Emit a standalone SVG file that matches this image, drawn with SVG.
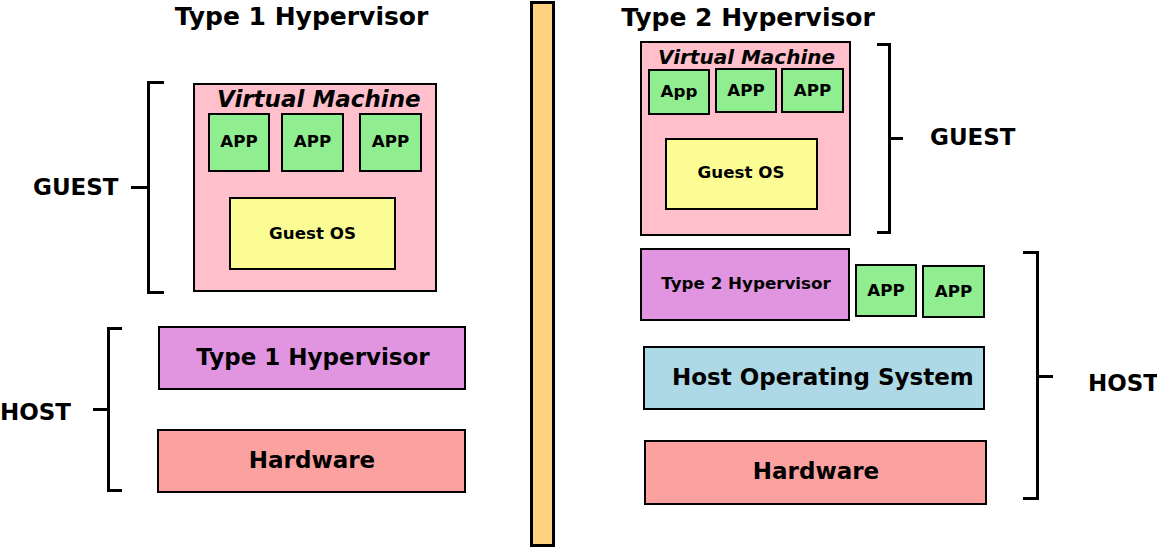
<svg xmlns="http://www.w3.org/2000/svg" width="1157" height="548" viewBox="0 0 1157 548">
<style>
text{font-family:"DejaVu Sans","Liberation Sans",sans-serif;font-weight:bold;fill:#000}
.box{stroke:#000;stroke-width:2}
.vm{fill:#FFC0CB}
.app{fill:#90EE90}
.gos{fill:#FCFC94}
.hyp{fill:#E194E0}
.hw{fill:#FBA19F}
.hos{fill:#ADD8E6}
.br{fill:none;stroke:#000;stroke-width:3;stroke-linejoin:miter;stroke-linecap:butt}
.t25{font-size:25px}
.t23{font-size:23px}
.t16{font-size:16.7px}
.mid{text-anchor:middle}
.it{font-style:italic}
</style>
<rect width="1157" height="548" fill="#fff"/>
<g id="title-type1"><text class="t25 mid" x="301.5" y="25">Type 1 Hypervisor</text></g>
<g id="title-type2"><text class="t25 mid" x="748" y="26">Type 2 Hypervisor</text></g>
<g id="divider"><rect x="531.5" y="2.5" width="22" height="543" fill="#FFD280" stroke="#000" stroke-width="3"/></g>

<g id="vm1">
<rect class="box vm" x="194" y="84" width="242" height="207"/>
<text class="t23 it" x="217" y="107">Virtual Machine</text>
</g>
<g id="vm1-app1"><rect class="box app" x="209" y="114" width="60" height="57"/><text class="t16 mid" x="239" y="146.5">APP</text></g>
<g id="vm1-app2"><rect class="box app" x="282" y="114" width="61" height="57"/><text class="t16 mid" x="312.5" y="146.5">APP</text></g>
<g id="vm1-app3"><rect class="box app" x="360" y="114" width="61" height="57"/><text class="t16 mid" x="390.5" y="146.5">APP</text></g>
<g id="vm1-guestos"><rect class="box gos" x="230" y="198" width="165" height="71"/><text class="t16 mid" x="312.5" y="238.5">Guest OS</text></g>
<g id="type1-hypervisor"><rect class="box hyp" x="159" y="327" width="306" height="62"/><text class="t23 mid" x="313" y="365">Type 1 Hypervisor</text></g>
<g id="hardware1"><rect class="box hw" x="158" y="430" width="307" height="62"/><text class="t23 mid" x="312" y="468">Hardware</text></g>
<g id="guest1-label"><text class="t23" x="33" y="195">GUEST</text></g>
<g id="host1-label"><text class="t23" x="0" y="420">HOST</text></g>

<g id="vm2">
<rect class="box vm" x="641" y="42" width="209" height="193"/>
<text class="it" font-size="20" x="658" y="64">Virtual Machine</text>
</g>
<g id="vm2-app1"><rect class="box app" x="649" y="70" width="60" height="44"/><text class="t16 mid" x="679" y="97">App</text></g>
<g id="vm2-app2"><rect class="box app" x="716" y="69" width="60" height="43"/><text class="t16 mid" x="746" y="96">APP</text></g>
<g id="vm2-app3"><rect class="box app" x="782" y="69" width="61" height="43"/><text class="t16 mid" x="812.5" y="96">APP</text></g>
<g id="vm2-guestos"><rect class="box gos" x="666" y="139" width="151" height="70"/><text class="t16 mid" x="741" y="178">Guest OS</text></g>
<g id="type2-hypervisor"><rect class="box hyp" x="641" y="249" width="208" height="71"/><text class="t16 mid" x="746" y="289">Type 2 Hypervisor</text></g>
<g id="host-app1"><rect class="box app" x="856" y="265" width="60" height="51"/><text class="t16 mid" x="886" y="296">APP</text></g>
<g id="host-app2"><rect class="box app" x="923" y="266" width="61" height="51"/><text class="t16 mid" x="953.5" y="297">APP</text></g>
<g id="host-os"><rect class="box hos" x="644" y="347" width="340" height="62"/><text class="t23" x="672" y="385">Host Operating System</text></g>
<g id="hardware2"><rect class="box hw" x="645" y="441" width="341" height="63"/><text class="t23 mid" x="816" y="479">Hardware</text></g>
<g id="guest2-label"><text class="t23" x="930" y="145">GUEST</text></g>
<g id="host2-label"><text class="t23" x="1088" y="391">HOST</text></g>

<g id="connectors">
<path class="br" d="M164 82.5H148.5V292.5H164M148.5 187.5H131"/>
<path class="br" d="M122 328.5H108.5V490.5H122M108.5 409.5H93"/>
<path class="br" d="M877 44.5H889.5V232.5H877M889.5 138.5H903"/>
<path class="br" d="M1023 252.5H1037.5V498.5H1023M1037.5 376.5H1053"/>
</g>
</svg>
